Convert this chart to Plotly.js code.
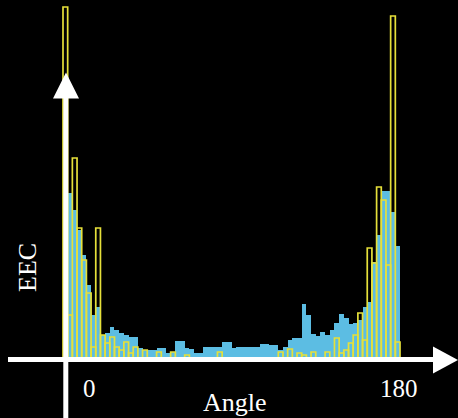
<!DOCTYPE html>
<html>
<head>
<meta charset="utf-8">
<script src="https://cdn.plot.ly/plotly-3.0.1.min.js"></script>
<style>
  html, body { margin: 0; padding: 0; background: #000; }
  #chart { width: 458px; height: 418px; }
</style>
</head>
<body>
<div id="chart"></div>
<script>
// ---- data (72 bins of 2.5 degrees, 0..180) ----
const binWidthDeg = 2.5;
const binCenters = Array.from({length: 72}, (_, i) => 1.25 + binWidthDeg * i);

// filled (blue) histogram
const eecBlue = [
  2.38, 1.65, 1.48, 1.28, 1.03, 0.73, 0.43, 0.51, 0.23, 0.25,
  0.31, 0.28, 0.25, 0.23, 0.21, 0.21, 0.10, 0.08, 0.08, 0.08,
  0.10, 0.10, 0.05, 0.06, 0.17, 0.17, 0.10, 0.09, 0.05, 0.05,
  0.11, 0.11, 0.11, 0.11, 0.16, 0.16, 0.10, 0.11, 0.11, 0.11,
  0.11, 0.11, 0.14, 0.14, 0.13, 0.13, 0.08, 0.11, 0.18, 0.20,
  0.20, 0.54, 0.43, 0.24, 0.22, 0.26, 0.23, 0.28, 0.35, 0.44,
  0.40, 0.34, 0.35, 0.38, 0.51, 0.56, 0.96, 1.23, 1.67, 1.67,
  1.46, 1.12
];

// outlined (yellow) histogram
const eecYellow = [
  3.51, 0.43, 2.00, 1.30, 0.98, 0.65, 0.11, 1.30, 0.23, 0.15,
  0.21, 0.11, 0.08, 0.16, 0.05, 0.11, 0.00, 0.08, 0.00, 0.00,
  0.06, 0.00, 0.00, 0.06, 0.00, 0.00, 0.03, 0.00, 0.00, 0.00,
  0.00, 0.00, 0.00, 0.06, 0.00, 0.00, 0.00, 0.00, 0.00, 0.00,
  0.00, 0.00, 0.00, 0.00, 0.00, 0.00, 0.06, 0.00, 0.09, 0.00,
  0.05, 0.03, 0.00, 0.06, 0.00, 0.00, 0.06, 0.00, 0.20, 0.05,
  0.08, 0.15, 0.23, 0.45, 0.18, 1.10, 0.95, 1.71, 1.58, 0.93,
  3.42, 0.16
];

const tickLabels = ["0", "180"];
const xTitle = "Angle";
const yTitle = "EEC";

// ---- layout helpers (figure pixels -> paper) ----
const W = 458, H = 418;
const PX = p => p / W;
const PY = p => 1 - p / H;

const BLUE = "#5cbde3";
const YELLOW = "#e6e03a";
const WHITE = "#ffffff";
const FONT = "Liberation Serif, Times New Roman, serif";

const traces = [
  {
    type: "bar", x: binCenters, y: eecBlue, width: binWidthDeg,
    marker: {color: BLUE, line: {width: 0}},
    hoverinfo: "skip", showlegend: false
  },
  {
    type: "bar", x: binCenters, y: eecYellow, width: binWidthDeg,
    marker: {color: "rgba(0,0,0,0)", line: {color: YELLOW, width: 1.7}},
    hoverinfo: "skip", showlegend: false
  }
];

// 0 deg at px 63, 180 deg at px 400
const pxPerDeg = (400 - 63) / 180;
const xRange = [-63 / pxPerDeg, (W - 63) / pxPerDeg];
// baseline at py 358, 100 px per unit
const yRange = [-(H - 358) / 100, 358 / 100];

function pathStr(pts) {
  return "M " + pts.map(p => PX(p[0]) + "," + PY(p[1])).join(" L ") + " Z";
}

const layout = {
  width: W, height: H,
  margin: {l: 0, r: 0, t: 0, b: 0, pad: 0},
  paper_bgcolor: "#000", plot_bgcolor: "#000",
  barmode: "overlay", bargap: 0,
  xaxis: {range: xRange, visible: false, fixedrange: true},
  yaxis: {range: yRange, visible: false, fixedrange: true},
  shapes: [
    {type: "line", xref: "paper", yref: "paper", layer: "above",
     x0: PX(8), x1: PX(436), y0: PY(359.5), y1: PY(359.5),
     line: {color: WHITE, width: 5}},
    {type: "path", xref: "paper", yref: "paper", layer: "above",
     path: pathStr([[433, 346.5], [458, 360], [433, 373.5]]),
     fillcolor: WHITE, line: {color: WHITE, width: 0}},
    {type: "line", xref: "paper", yref: "paper", layer: "above",
     x0: PX(65.8), x1: PX(65.8), y0: PY(95), y1: PY(418),
     line: {color: WHITE, width: 5}},
    {type: "path", xref: "paper", yref: "paper", layer: "above",
     path: pathStr([[53, 98.5], [66, 72.5], [79, 98.5]]),
     fillcolor: WHITE, line: {color: WHITE, width: 0}}
  ],
  annotations: [
    {text: tickLabels[0], xref: "paper", yref: "paper", x: PX(89), y: PY(388.5),
     xanchor: "center", yanchor: "middle", showarrow: false,
     font: {family: FONT, size: 25, color: WHITE}},
    {text: tickLabels[1], xref: "paper", yref: "paper", x: PX(398.5), y: PY(388),
     xanchor: "center", yanchor: "middle", showarrow: false,
     font: {family: FONT, size: 25, color: WHITE}},
    {text: xTitle, xref: "paper", yref: "paper", x: PX(235), y: PY(402),
     xanchor: "center", yanchor: "middle", showarrow: false,
     font: {family: FONT, size: 26, color: WHITE}},
    {text: yTitle, xref: "paper", yref: "paper", x: PX(27), y: PY(268),
     xanchor: "center", yanchor: "middle", showarrow: false, textangle: -90,
     font: {family: FONT, size: 26, color: WHITE}}
  ]
};

Plotly.newPlot("chart", traces, layout, {displayModeBar: false, staticPlot: true});
</script>
</body>
</html>
